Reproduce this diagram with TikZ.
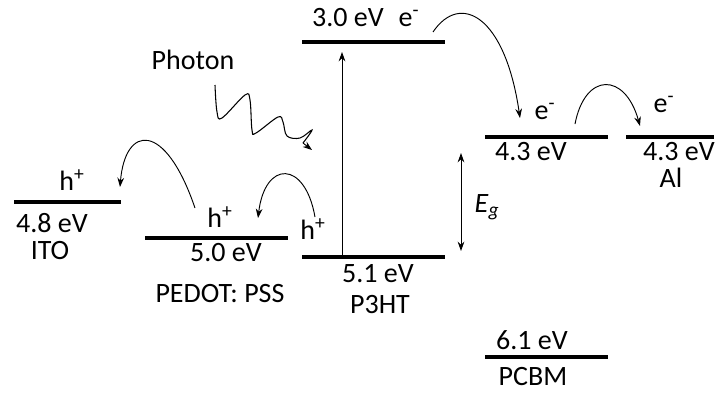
\documentclass[tikz,border=0pt]{standalone}
\usepackage{fontspec}
\setmainfont{Carlito}
\usetikzlibrary{arrows.meta}

\begin{document}
\begin{tikzpicture}[x=0.75pt, y=-0.75pt,
	level/.style={line width=2.3pt},
	hop/.style={-{Stealth[length=7pt,width=5pt]}, line width=0.7pt},
	txt/.style={font=\fontsize{21}{25}\selectfont, inner sep=0pt}]
	\useasboundingbox (0,0) rectangle (717,393);
	
	% ITO
	\draw[level] (14,202) -- (121,202);
	\node[txt] (hITO) at (72,180) {h\textsuperscript{+}};
	\node[txt] (eITO) at (52,223) {4.8 eV};
	\node[txt] (ITO) at (50,251) {ITO};
	
	% PEDOT: PSS
	\draw[level] (145,238) -- (288,238);
	\node[txt] (hPED) at (220,217) {h\textsuperscript{+}};
	\node[txt] (ePED) at (226,253) {5.0 eV};
	\node[txt] (PED) at (220,294) {PEDOT: PSS};
	
	% P3HT
	\draw[level] (302,42) -- (445,42);
	\draw[level] (302,257) -- (445,257);
	\node[txt] (eLUMO) at (348,18) {3.0 eV};
	\node[txt] (eP3HT) at (409,18) {e\textsuperscript{-}};
	\node[txt] (hP3HT) at (313,229) {h\textsuperscript{+}};
	\node[txt] (eHOMO) at (378,274) {5.1 eV};
	\node[txt] (P3HT) at (380,305) {P3HT};
	\coordinate (homo) at (342,257);
	\coordinate (lumo) at (342,52);
	\draw[hop] (homo) -- (lumo);
	
	% PCBM
	\draw[level] (485,137) -- (608,137);
	\draw[level] (485,357) -- (608,357);
	\node[txt] (ePCBM) at (545,111) {e\textsuperscript{-}};
	\node[txt] (lPCBM) at (531,152) {4.3 eV};
	\node[txt] (hPCBM) at (532,340) {6.1 eV};
	\node[txt] (PCBM) at (533,377) {PCBM};
	
	% Al
	\draw[level] (626,137) -- (714,137);
	\node[txt] (eAl) at (664,104) {e\textsuperscript{-}};
	\node[txt] (lAl) at (679,152) {4.3 eV};
	\node[txt] (Al) at (671,178) {Al};
	
	% Band gap
	\coordinate (gtop) at (461,153);
	\coordinate (gbot) at (461,251);
	\draw[hop, {Stealth[length=7pt,width=5pt]}-{Stealth[length=7pt,width=5pt]}] (gtop) -- (gbot);
	\node[txt] (Eg) at (487,207) {\textit{E}\textsubscript{\textit{g}}};
	
	% Photon
	\node[txt] (photon) at (193,60) {Photon};
	\coordinate (wave) at (312,150);
	\draw[line width=0.8pt] plot[smooth, tension=0.6] coordinates {(215,85) (217,112) (222,118) (245,95) (250,100) (252,130) (256,133) (278,117) (283,122) (287,136) (300,138) (312,130) (303,143)};
	\draw[hop] (303,143) -- (wave);
	
	% Charge hopping
	\coordinate (e1) at (433,32);
	\coordinate (e2) at (520,118);
	\coordinate (e3) at (575,124);
	\coordinate (e4) at (640,126);
	\coordinate (h1) at (315,217);
	\coordinate (h2) at (258,218);
	\coordinate (h3) at (195,208);
	\coordinate (h4) at (120,187);
	\draw[hop] (e1) .. controls (460,-8) and (505,15) .. (e2);
	\draw[hop] (e3) .. controls (585,72) and (625,72) .. (e4);
	\draw[hop] (h1) .. controls (305,160) and (265,160) .. (h2);
	\draw[hop] (h3) .. controls (165,120) and (125,125) .. (h4);
\end{tikzpicture}
\end{document}
